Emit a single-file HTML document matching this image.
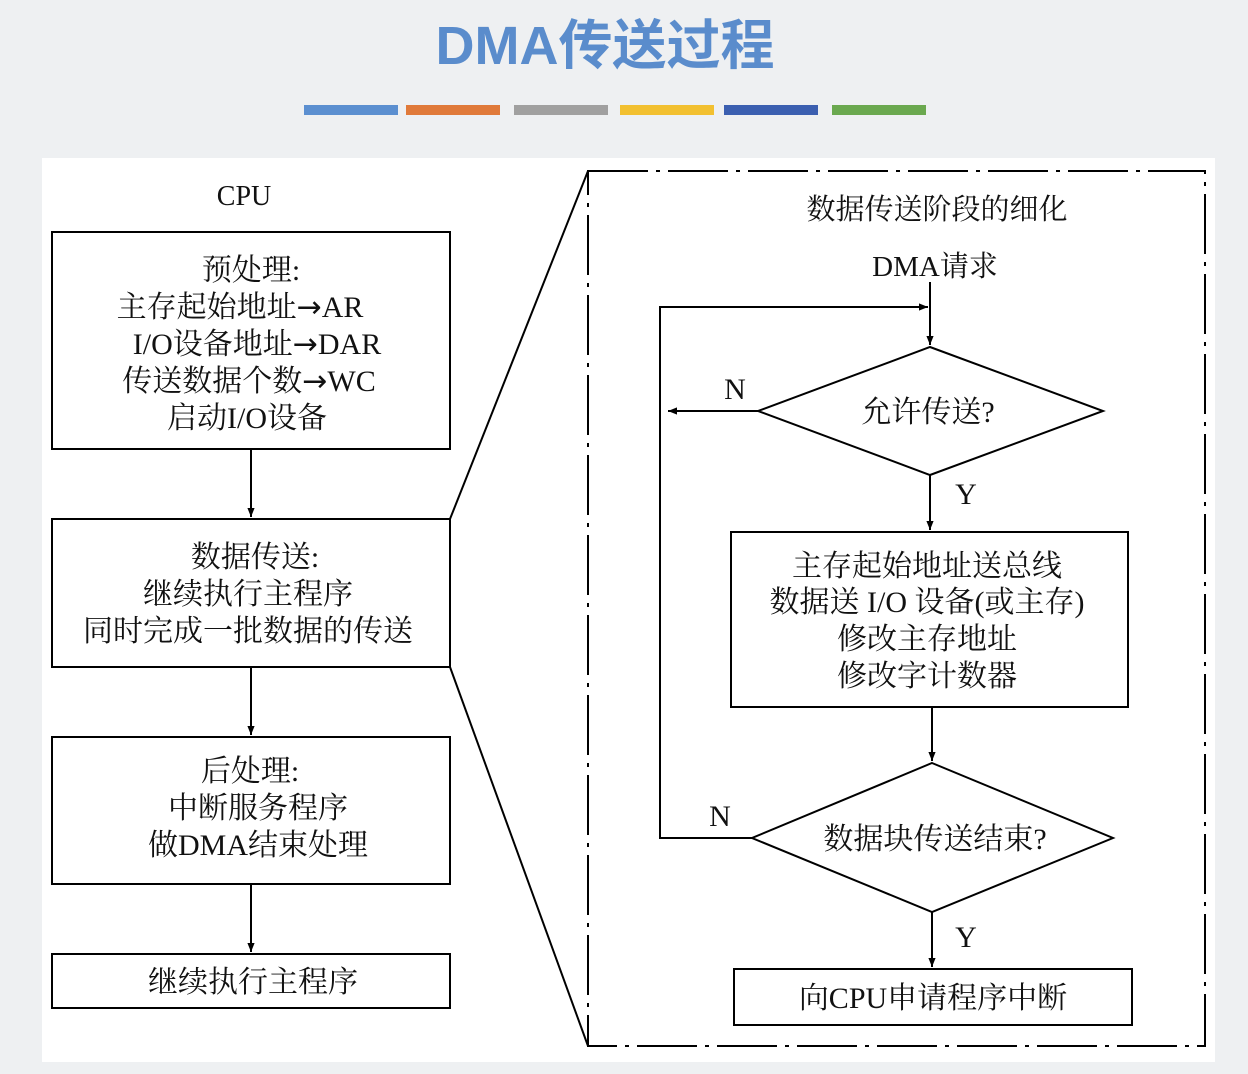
<!DOCTYPE html>
<html><head><meta charset="utf-8"><style>
html,body{margin:0;padding:0;background:#eef0f2;}
svg{display:block;}
</style></head><body>
<svg width="1248" height="1074" viewBox="0 0 1248 1074" xmlns="http://www.w3.org/2000/svg">
<defs>
<marker id="a" viewBox="0 0 10 10" refX="10" refY="5" markerWidth="9" markerHeight="12" markerUnits="userSpaceOnUse" orient="auto"><path d="M0,1 L10,5 L0,9 Z" fill="#000"/></marker>
</defs>
<rect width="1248" height="1074" fill="#eef0f2"/>
<text x="605" y="64" text-anchor="middle" font-family="Liberation Sans, Noto Sans CJK SC, sans-serif" font-weight="bold" font-size="54" fill="#5a8ccc">DMA传送过程</text>
<rect x="304" y="105" width="94" height="10" fill="#5b8fd0"/>
<rect x="406" y="105" width="94" height="10" fill="#e07a3a"/>
<rect x="514" y="105" width="94" height="10" fill="#a0a0a0"/>
<rect x="620" y="105" width="94" height="10" fill="#f2c030"/>
<rect x="724" y="105" width="94" height="10" fill="#3b5fb0"/>
<rect x="832" y="105" width="94" height="10" fill="#6aa84f"/>
<rect x="42" y="158" width="1173" height="904" fill="#fff"/>
<g stroke="#000" stroke-width="2" fill="none">
<rect x="52" y="232" width="398" height="217"/>
<rect x="52" y="519" width="398" height="148"/>
<rect x="52" y="737" width="398" height="147"/>
<rect x="52" y="954" width="398" height="54"/>
<line x1="251" y1="449" x2="251" y2="517" marker-end="url(#a)"/>
<line x1="251" y1="667" x2="251" y2="735" marker-end="url(#a)"/>
<line x1="251" y1="884" x2="251" y2="952" marker-end="url(#a)"/>
<rect x="588" y="171" width="617" height="875" stroke-dasharray="60,8,4,8"/>
<line x1="450" y1="519" x2="588" y2="171"/>
<line x1="450" y1="667" x2="588" y2="1046"/>
<line x1="930" y1="282" x2="930" y2="345" marker-end="url(#a)"/>
<polygon points="930,347 1103,411 930,475 758,411"/>
<line x1="758" y1="411" x2="668" y2="411" marker-end="url(#a)"/>
<line x1="930" y1="475" x2="930" y2="530" marker-end="url(#a)"/>
<rect x="731" y="532" width="397" height="175"/>
<line x1="932" y1="707" x2="932" y2="761" marker-end="url(#a)"/>
<polygon points="932,763 1113,838 932,912 752,838"/>
<polyline points="752,838 660,838 660,307 928,307" marker-end="url(#a)"/>
<line x1="932" y1="912" x2="932" y2="967" marker-end="url(#a)"/>
<rect x="734" y="969" width="398" height="56"/>
</g>
<g font-family="Liberation Serif, Noto Serif CJK SC, serif" font-size="30" fill="#111" text-anchor="middle">
<text x="244" y="205" font-size="28">CPU</text>
<text x="251" y="280">预处理:</text>
<text x="240" y="317">主存起始地址<tspan font-family="DejaVu Sans, sans-serif">→</tspan>AR</text>
<text x="257" y="354">I/O设备地址<tspan font-family="DejaVu Sans, sans-serif">→</tspan>DAR</text>
<text x="249" y="391">传送数据个数<tspan font-family="DejaVu Sans, sans-serif">→</tspan>WC</text>
<text x="247" y="428">启动I/O设备</text>
<text x="255" y="567">数据传送:</text>
<text x="248" y="604">继续执行主程序</text>
<text x="248" y="641">同时完成一批数据的传送</text>
<text x="250" y="781">后处理:</text>
<text x="258" y="818">中断服务程序</text>
<text x="258" y="855">做DMA结束处理</text>
<text x="253" y="992">继续执行主程序</text>
<text x="937" y="219" font-size="29">数据传送阶段的细化</text>
<text x="935" y="276" font-size="29">DMA请求</text>
<text x="735" y="399">N</text>
<text x="928" y="422">允许传送?</text>
<text x="966" y="504">Y</text>
<text x="927" y="576">主存起始地址送总线</text>
<text x="927" y="612">数据送 I/O 设备(或主存)</text>
<text x="927" y="649">修改主存地址</text>
<text x="927" y="686">修改字计数器</text>
<text x="720" y="826">N</text>
<text x="935" y="849">数据块传送结束?</text>
<text x="966" y="947">Y</text>
<text x="933" y="1008">向CPU申请程序中断</text>
</g>
</svg>
</body></html>
